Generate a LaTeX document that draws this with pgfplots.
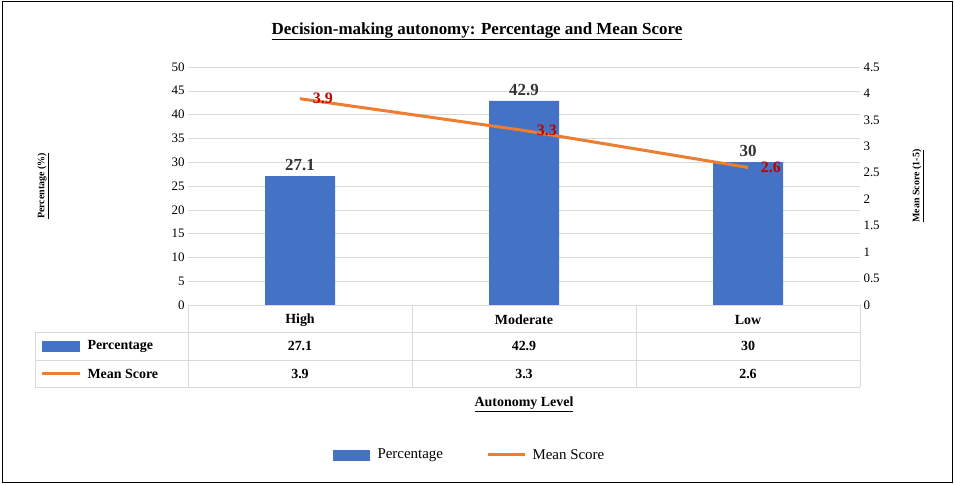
\documentclass[border=0pt]{standalone}
\usepackage{pgfplots}
\pgfplotsset{compat=1.18}
\usepackage{fontspec}
\setmainfont{Liberation Serif}
\definecolor{cblue}{HTML}{4472C4}
\definecolor{corange}{HTML}{ED7D31}
\definecolor{cred}{HTML}{C00000}
\definecolor{cgrid}{HTML}{D9D9D9}
\newcommand{\fs}[1]{\fontsize{#1}{#1}\selectfont}
\begin{document}
\begin{tikzpicture}
\path (0,0) rectangle (954bp,485bp);
\begin{axis}[at={(188bp,180bp)},anchor=south west,scale only axis,width=672bp,height=238bp,
 xmin=-0.5,xmax=2.5,ymin=0,ymax=50,ytick={0,5,...,50},xtick=\empty,
 axis x line*=bottom,axis y line*=left,axis line style={cgrid},
 y axis line style={draw=none},ytick style={draw=none},
 ymajorgrids,grid style={cgrid},
 yticklabel style={font=\fs{13}},/pgf/number format/assume math mode=true,
 ylabel={\underline{\textbf{Percentage (\%)}}},ylabel style={font=\fs{14}},
 every axis y label/.style={at={(-145bp,119bp)},rotate=90,anchor=center},
 nodes near coords,every node near coord/.append style={font=\bfseries\fs{17},color=black!80,yshift=2bp},
 clip=false]
\addplot[ybar,bar width=70bp,fill=cblue,draw=none] coordinates {(0,27.1)(1,42.9)(2,30)};
\end{axis}
\begin{axis}[at={(188bp,180bp)},anchor=south west,scale only axis,width=672bp,height=238bp,
 xmin=-0.5,xmax=2.5,ymin=0,ymax=4.5,ytick={0,0.5,...,4.5},xtick=\empty,
 axis x line=none,axis y line*=right,y axis line style={draw=none},ytick style={draw=none},
 yticklabel style={font=\fs{13}},/pgf/number format/assume math mode=true,
 yticklabel={\pgfmathprintnumber[fixed,precision=1]{\tick}},
 ylabel={\underline{\textbf{Mean Score (1-5)}}},ylabel style={font=\fs{14}},
 every axis y label/.style={at={(730bp,119bp)},rotate=90,anchor=center},
 clip=false]
\addplot[corange,line width=3bp,
 nodes near coords,point meta=explicit symbolic,
 every node near coord/.append style={font=\bfseries\fs{16},color=cred,anchor=west,xshift=8bp}]
 coordinates {(0,3.9)[3.9] (1,3.3)[3.3] (2,2.6)[2.6]};
\end{axis}
\begin{scope}[x=1bp,y=-1bp,yshift=485bp]
\draw[black,line width=1bp] (2,2) rectangle (952,483);
\draw[cgrid] (188,305)--(188,387) (412,305)--(412,387) (636,305)--(636,387) (860,305)--(860,387)
 (35,332)--(860,332) (35,360)--(860,360) (35,387)--(860,387) (35,332)--(35,387);
\node[font=\bfseries\fs{14}] at (300,320) {High};
\node[font=\bfseries\fs{14}] at (524,320) {Moderate};
\node[font=\bfseries\fs{14}] at (748,320) {Low};
\fill[cblue] (42,341) rectangle (80,352);
\node[font=\bfseries\fs{14},anchor=west] at (84,346) {Percentage};
\draw[corange,line width=3bp] (42,374)--(80,374);
\node[font=\bfseries\fs{14},anchor=west] at (84,374) {Mean Score};
\node[font=\bfseries\fs{14}] at (300,346) {27.1};
\node[font=\bfseries\fs{14}] at (524,346) {42.9};
\node[font=\bfseries\fs{14}] at (748,346) {30};
\node[font=\bfseries\fs{14}] at (300,374) {3.9};
\node[font=\bfseries\fs{14}] at (524,374) {3.3};
\node[font=\bfseries\fs{14}] at (748,374) {2.6};
\node[font=\bfseries\fs{14}] at (524,404) {\underline{Autonomy Level}};
\node[font=\bfseries\fs{17}] at (477,31) {\underline{Decision-making autonomy: Percentage and Mean Score}};
\fill[cblue] (333,450) rectangle (370,461);
\node[font=\fs{15},anchor=west] at (374,455) {Percentage};
\draw[corange,line width=3bp] (488,455)--(525,455);
\node[font=\fs{15},anchor=west] at (529,455) {Mean Score};
\end{scope}
\end{tikzpicture}
\end{document}
